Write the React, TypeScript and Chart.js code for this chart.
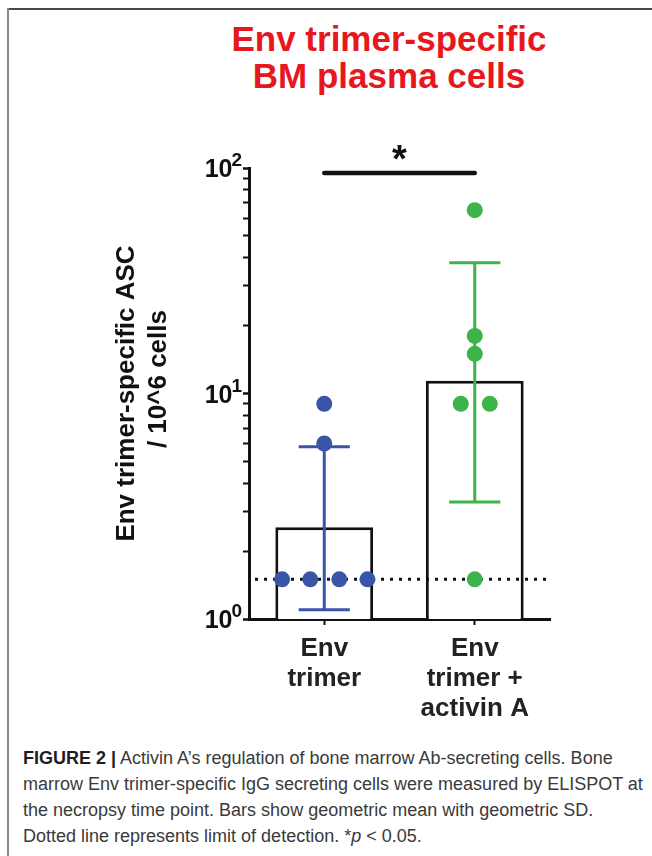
import React, { useEffect, useRef } from 'react';
import { Chart, registerables } from 'chart.js';

Chart.register(...registerables);

// ---- data ----
const CATEGORIES = [['Env', 'trimer'], ['Env', 'trimer +', 'activin A']];
const GEO_MEANS = [2.55, 11.4];
const SD_LOW = [1.1, 3.3];
const SD_HIGH = [5.8, 38];
const GROUP1_VALUES = [9, 6, 1.5, 1.5, 1.5, 1.5];
const GROUP1_JITTER = [0, 0, -0.28, -0.093, 0.1, 0.287];
const GROUP2_VALUES = [65, 18, 15, 9, 9, 1.5];
const GROUP2_JITTER = [0, 0, 0, -0.093, 0.1, 0];
const LIMIT_OF_DETECTION = 1.5;
const LOD_X_RANGE = [-0.46, 1.49];
const SIG_Y = 95;
const SIG_PAIR = [0, 1];
const SIG_LABEL = '*';
const Y_MIN = 1;
const Y_MAX = 100;
const Y_TICK_VALUES = [1, 2, 3, 4, 5, 6, 7, 8, 9, 10, 20, 30, 40, 50, 60, 70, 80, 90, 100];
const Y_LABEL_VALUES = [1, 10, 100];
const Y_TITLE = ['Env trimer-specific ASC', '    / 10^6 cells'];
const TITLE_LINES = ['Env trimer-specific', 'BM plasma cells'];

// ---- styles ----
const FONT = '"Liberation Sans", Arial, Helvetica, sans-serif';
const BLUE = '#3a54a8';
const GREEN = '#3cb449';
const INK = '#111111';
const CAP_HALF = 0.17;

const groups = [
  { values: GROUP1_VALUES, jitter: GROUP1_JITTER, color: BLUE },
  { values: GROUP2_VALUES, jitter: GROUP2_JITTER, color: GREEN },
];

const overlayPlugin = {
  id: 'overlay',
  afterDraw(chart: any) {
    const ctx = chart.ctx;
    const ys = chart.scales.y;
    const xp = chart.scales.xp;
    ctx.save();
    ctx.fillStyle = INK;
    ctx.textBaseline = 'alphabetic';
    ctx.textAlign = 'right';
    Y_LABEL_VALUES.forEach((v) => {
      const py = ys.getPixelForValue(v);
      const exp = String(Math.round(Math.log10(v)));
      const right = ys.right - 7;
      ctx.font = `bold 19px ${FONT}`;
      const w = ctx.measureText(exp).width;
      ctx.fillText(exp, right, py - 2);
      ctx.font = `bold 25px ${FONT}`;
      ctx.fillText('10', right - w + 1, py + 9);
    });
    ctx.textAlign = 'center';
    ctx.font = `bold 38px ${FONT}`;
    const mx = xp.getPixelForValue((SIG_PAIR[0] + SIG_PAIR[1]) / 2);
    ctx.fillText(SIG_LABEL, mx, ys.getPixelForValue(SIG_Y) - 1);
    ctx.restore();
  },
};

export default function App() {
  const ref = useRef<HTMLCanvasElement | null>(null);

  useEffect(() => {
    if (!ref.current) return;
    const lineBase = {
      type: 'line' as const,
      xAxisID: 'xp',
      yAxisID: 'y',
      pointRadius: 0,
      pointHoverRadius: 0,
      fill: false,
      tension: 0,
    };
    const datasets: any[] = [];
    datasets.push({
      type: 'bar',
      data: GEO_MEANS,
      xAxisID: 'x',
      yAxisID: 'y',
      backgroundColor: '#ffffff',
      borderColor: INK,
      borderWidth: 3,
      barPercentage: 0.65,
      categoryPercentage: 1,
      grouped: false,
      order: 10,
    });
    datasets.push({
      ...lineBase,
      data: [
        { x: LOD_X_RANGE[0], y: LIMIT_OF_DETECTION },
        { x: LOD_X_RANGE[1], y: LIMIT_OF_DETECTION },
      ],
      borderColor: INK,
      borderWidth: 3,
      borderDash: [3, 6],
      order: 9,
    });
    groups.forEach((g, i) => {
      const segs = [
        [{ x: i, y: SD_LOW[i] }, { x: i, y: SD_HIGH[i] }],
        [{ x: i - CAP_HALF, y: SD_HIGH[i] }, { x: i + CAP_HALF, y: SD_HIGH[i] }],
        [{ x: i - CAP_HALF, y: SD_LOW[i] }, { x: i + CAP_HALF, y: SD_LOW[i] }],
      ];
      segs.forEach((s) => {
        datasets.push({ ...lineBase, data: s, borderColor: g.color, borderWidth: 3, order: 8 });
      });
    });
    datasets.push({
      ...lineBase,
      data: [
        { x: SIG_PAIR[0], y: SIG_Y },
        { x: SIG_PAIR[1], y: SIG_Y },
      ],
      borderColor: INK,
      borderWidth: 4.5,
      borderCapStyle: 'round',
      order: 7,
    });
    groups.forEach((g, i) => {
      datasets.push({
        ...lineBase,
        showLine: false,
        data: g.values.map((v, k) => ({ x: i + g.jitter[k], y: v })),
        pointRadius: 8,
        pointBackgroundColor: g.color,
        pointBorderWidth: 0,
        pointBorderColor: g.color,
        order: 1,
      });
    });

    const chart = new Chart(ref.current, {
      type: 'bar',
      data: { labels: CATEGORIES as any, datasets },
      options: {
        animation: false,
        responsive: true,
        maintainAspectRatio: false,
        layout: { padding: { left: 111, right: 102, top: 168, bottom: 1 } },
        plugins: { legend: { display: false }, tooltip: { enabled: false }, title: { display: false } },
        scales: {
          x: {
            type: 'category',
            offset: true,
            grid: { offset: false, drawOnChartArea: false, drawTicks: true, tickLength: 6, tickColor: INK, tickWidth: 2 },
            border: { display: true, color: INK, width: 3 },
            ticks: {
              color: '#222222',
              padding: 9,
              font: { family: FONT, size: 26, weight: 'bold', lineHeight: 1.15 },
              maxRotation: 0,
              autoSkip: false,
            },
            afterFit: (s: any) => {
              s.height = 110;
            },
          },
          xp: {
            type: 'linear',
            display: false,
            min: -0.5,
            max: 1.5,
            offset: false,
          },
          y: {
            type: 'logarithmic',
            min: Y_MIN,
            max: Y_MAX,
            afterBuildTicks: (s: any) => {
              s.ticks = Y_TICK_VALUES.map((v) => ({ value: v }));
            },
            grid: {
              drawOnChartArea: false,
              drawTicks: true,
              tickLength: 6,
              tickColor: INK,
              tickWidth: (c: any) => (Y_LABEL_VALUES.includes(c.tick?.value) ? 2.5 : 2),
            },
            border: { display: true, color: INK, width: 3 },
            ticks: { display: false, autoSkip: false },
            title: {
              display: true,
              text: Y_TITLE,
              color: INK,
              padding: 0,
              font: { family: FONT, size: 26, weight: 'bold', lineHeight: 1.23 },
            },
            afterFit: (s: any) => {
              s.width = 138;
            },
          },
        },
      } as any,
      plugins: [overlayPlugin],
    });
    return () => chart.destroy();
  }, []);

  return (
    <div style={{ position: 'absolute', left: 0, top: 0, width: 652, height: 856, background: '#ffffff', overflow: 'hidden' }}>
      <div style={{ position: 'absolute', left: 7, top: 8, width: 645, height: 2, background: '#4a4a4a' }} />
      <div style={{ position: 'absolute', left: 7, top: 8, width: 2, height: 848, background: '#8a8a8a' }} />
      <div
        style={{
          position: 'absolute',
          left: 189,
          top: 21,
          width: 400,
          textAlign: 'center',
          fontFamily: FONT,
          fontWeight: 'bold',
          fontSize: 35,
          lineHeight: '36.6px',
          color: '#e8171e',
          whiteSpace: 'nowrap',
        }}
      >
        {TITLE_LINES.map((t, i) => (
          <div key={i}>{t}</div>
        ))}
      </div>
      <div style={{ position: 'absolute', left: 0, top: 0, width: 652, height: 730 }}>
        <canvas ref={ref} />
      </div>
      <div
        style={{
          position: 'absolute',
          left: 23,
          top: 745,
          fontFamily: FONT,
          fontSize: 18,
          lineHeight: '26px',
          color: '#3a3a3a',
          whiteSpace: 'nowrap',
        }}
      >
        <b style={{ color: '#1e1e1e' }}>FIGURE 2 |</b> Activin A’s regulation of bone marrow Ab-secreting cells. Bone
        <br />
        marrow Env trimer-specific IgG secreting cells were measured by ELISPOT at
        <br />
        the necropsy time point. Bars show geometric mean with geometric SD.
        <br />
        Dotted line represents limit of detection. *<i>p</i> &lt; 0.05.
      </div>
    </div>
  );
}
